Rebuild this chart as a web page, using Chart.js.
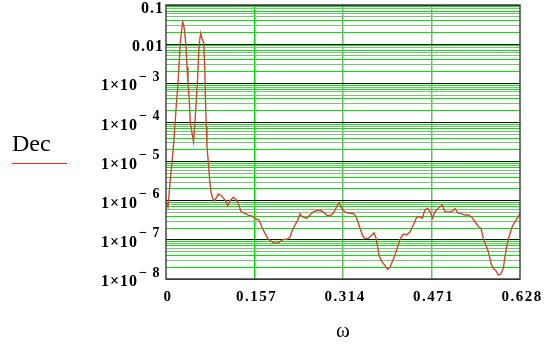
<!DOCTYPE html>
<html>
<head>
<meta charset="utf-8">
<script src="https://cdn.jsdelivr.net/npm/chart.js@4.4.1/dist/chart.umd.min.js"></script>
<style>
  html, body { margin: 0; padding: 0; background: #fff; }
  #chart { display: block; }
</style>
</head>
<body>
<canvas id="chart" width="554" height="347"></canvas>
<script>
// Dec(omega) on a log scale, Mathcad-style plot

const omega = [
    0, 0.0035, 0.0076, 0.0106, 0.0137, 0.0177, 0.0213, 0.0236, 0.0254, 0.0271,
    0.0296, 0.0314, 0.0332, 0.0355, 0.0373, 0.0390, 0.0413, 0.0431, 0.0461, 0.0488,
    0.0520, 0.0538, 0.0562, 0.0580, 0.0598, 0.0616, 0.0639, 0.0669, 0.0687, 0.0697,
    0.0715, 0.0727, 0.0757, 0.0775, 0.0798, 0.0828, 0.0864, 0.0928, 0.0988, 0.1047,
    0.1095, 0.1135, 0.1194, 0.1236, 0.1283, 0.1331, 0.1389, 0.1460, 0.1520, 0.1579,
    0.1650, 0.1698, 0.1756, 0.1815, 0.1875, 0.1934, 0.1982, 0.2022, 0.2081, 0.2141,
    0.2200, 0.2241, 0.2289, 0.2336, 0.2377, 0.2418, 0.2496, 0.2555, 0.2613, 0.2673,
    0.2744, 0.2791, 0.2851, 0.2909, 0.2968, 0.3028, 0.3069, 0.3117, 0.3175, 0.3252,
    0.3312, 0.3353, 0.3394, 0.3442, 0.3490, 0.3530, 0.3589, 0.3637, 0.3690, 0.3720,
    0.3748, 0.3779, 0.3826, 0.3885, 0.3930, 0.3974, 0.4015, 0.4062, 0.4110, 0.4151,
    0.4210, 0.4270, 0.4329, 0.4387, 0.4447, 0.4506, 0.4547, 0.4595, 0.4643, 0.4683,
    0.4731, 0.4772, 0.4831, 0.4902, 0.4950, 0.5008, 0.5068, 0.5127, 0.5181, 0.5246,
    0.5304, 0.5363, 0.5423, 0.5482, 0.5540, 0.5588, 0.5629, 0.5672, 0.5718, 0.5766,
    0.5806, 0.5854, 0.5895, 0.5938, 0.5984, 0.6014, 0.6044, 0.6085, 0.6143, 0.6191,
    0.6250, 0.6280
];

const dec = [
    9.8e-7, 6.9e-7, 3.4e-6, 9.2e-6, 3.0e-5, 2.1e-4, 1.0e-3, 3.9e-3, 1.07e-2, 1.9e-2,
    3.7e-2, 3.1e-2, 2.0e-2, 8.5e-3, 2.6e-3, 1.0e-3, 3.7e-4, 9.7e-5, 5.4e-5, 3.2e-5,
    1.4e-4, 3.7e-4, 1.47e-3, 5.9e-3, 1.28e-2, 1.9e-2, 1.4e-2, 1.07e-2, 2.65e-3, 5.6e-4,
    7.8e-5, 2.4e-5, 7.4e-6, 3.4e-6, 1.7e-6, 1.15e-6, 1.0e-6, 1.48e-6, 1.32e-6, 1.04e-6,
    7.3e-7, 1.0e-6, 1.22e-6, 1.09e-6, 8.6e-7, 5.2e-7, 4.8e-7, 4.3e-7, 4.1e-7, 3.55e-7,
    3.2e-7, 2.2e-7, 1.47e-7, 1.03e-7, 9.0e-8, 8.2e-8, 8.2e-8, 9.0e-8, 1.03e-7, 1.03e-7,
    1.16e-7, 1.78e-7, 2.4e-7, 3.2e-7, 4.6e-7, 3.9e-7, 3.55e-7, 4.3e-7, 5.2e-7, 5.6e-7,
    5.6e-7, 5.1e-7, 4.3e-7, 4.1e-7, 4.8e-7, 7.0e-7, 8.9e-7, 6.4e-7, 5.1e-7, 4.8e-7,
    4.8e-7, 4.3e-7, 3.2e-7, 1.97e-7, 1.25e-7, 1.09e-7, 1.09e-7, 1.25e-7, 1.52e-7, 1.2e-7,
    7.4e-8, 4.1e-8, 2.8e-8, 2.2e-8, 1.77e-8, 1.99e-8, 2.8e-8, 4.1e-8, 6.7e-8, 1.03e-7,
    1.41e-7, 1.33e-7, 1.61e-7, 2.4e-7, 3.8e-7, 3.9e-7, 3.55e-7, 6.0e-7, 6.4e-7, 5.2e-7,
    3.55e-7, 5.2e-7, 6.4e-7, 7.8e-7, 5.2e-7, 5.2e-7, 5.2e-7, 6.3e-7, 4.9e-7, 4.6e-7,
    4.3e-7, 4.3e-7, 3.8e-7, 2.9e-7, 2.2e-7, 1.97e-7, 1.09e-7, 7.4e-8, 5.0e-8, 2.5e-8,
    1.87e-8, 1.63e-8, 1.26e-8, 1.34e-8, 1.87e-8, 3.7e-8, 6.7e-8, 1.2e-7, 2.2e-7, 2.9e-7,
    3.9e-7, 4.8e-7
];

const xTicks = [0, 0.157, 0.314, 0.471, 0.628];
const xTickLabels = ['0', '0.157', '0.314', '0.471', '0.628'];
const yDecades = [0.1, 0.01, 1e-3, 1e-4, 1e-5, 1e-6, 1e-7, 1e-8];
const yTickBase = ['0.1', '0.01', '1×10', '1×10', '1×10', '1×10', '1×10', '1×10'];
const yTickExp = ['', '', '− 3', '− 4', '− 5', '− 6', '− 7', '− 8'];
const mantissas = [1, 2, 3, 4, 5, 6, 7, 8, 9];

const SERIF = "'Liberation Serif', 'Times New Roman', serif";

// minor grid colour per mantissa (bright / greyish green as in the original)
const minorColors = {
    2: '#00e600', 3: '#7cc07c', 4: '#00e600', 5: '#7cc07c',
    6: '#7cc07c', 7: '#00e600', 8: '#7cc07c', 9: '#00e600'
};

function yGridColor(value) {
    const exp = Math.floor(Math.log10(value) + 1e-9);
    const m = Math.round(value / Math.pow(10, exp));
    if (m === 1) return '#111111';
    return minorColors[m] || '#00e600';
}

const labelPlugin = {
    id: 'mathcadLabels',
    afterDraw(chart) {
        const ctx = chart.ctx;
        const area = chart.chartArea;
        const xs = chart.scales.x;
        const ys = chart.scales.y;

        ctx.save();

        // plot frame
        ctx.strokeStyle = '#444444';
        ctx.lineWidth = 1.5;
        ctx.strokeRect(area.left, area.top, area.right - area.left, area.bottom - area.top);

        ctx.fillStyle = '#000';
        ctx.letterSpacing = '1px';

        // y tick labels
        yDecades.forEach((v, i) => {
            const y = ys.getPixelForValue(v) + 3;
            ctx.textBaseline = 'middle';
            if (yTickExp[i] === '') {
                ctx.font = 'bold 16px ' + SERIF;
                ctx.textAlign = 'right';
                ctx.fillText(yTickBase[i], 164, Math.max(y, 9));
            } else {
                ctx.font = 'bold 16px ' + SERIF;
                ctx.textAlign = 'right';
                ctx.fillText(yTickBase[i], 138, y);
                ctx.font = 'bold 14px ' + SERIF;
                ctx.textAlign = 'left';
                ctx.fillText(yTickExp[i], 139, y - 9);
            }
        });

        // x tick labels
        ctx.letterSpacing = '1.5px';
        ctx.font = 'bold 15px ' + SERIF;
        ctx.textAlign = 'center';
        ctx.textBaseline = 'middle';
        xTicks.forEach((v, i) => {
            ctx.fillText(xTickLabels[i], xs.getPixelForValue(v) + 2, 297);
        });

        ctx.letterSpacing = '0px';

        // axis title
        ctx.font = '21px ' + SERIF;
        ctx.textAlign = 'center';
        ctx.textBaseline = 'middle';
        ctx.fillText('ω', (area.left + area.right) / 2, 331);

        // trace legend
        ctx.font = '24px ' + SERIF;
        ctx.textAlign = 'left';
        ctx.textBaseline = 'alphabetic';
        ctx.fillText('Dec', 12, 151);
        ctx.strokeStyle = '#e03020';
        ctx.lineWidth = 1;
        ctx.beginPath();
        ctx.moveTo(12, 163.5);
        ctx.lineTo(67, 163.5);
        ctx.stroke();

        ctx.restore();
    }
};

const chart = new Chart(document.getElementById('chart').getContext('2d'), {
    type: 'line',
    data: {
        datasets: [{
            label: 'Dec',
            data: omega.map((w, i) => ({ x: w, y: dec[i] })),
            borderColor: '#d0482e',
            borderWidth: 1.4,
            pointRadius: 0,
            tension: 0,
            fill: false
        }]
    },
    options: {
        responsive: false,
        animation: false,
        events: [],
        layout: {
            padding: { left: 0, right: 34, top: 5, bottom: 0 }
        },
        plugins: {
            legend: { display: false },
            title: { display: false },
            tooltip: { enabled: false }
        },
        scales: {
            x: {
                type: 'linear',
                min: 0,
                max: 0.628,
                afterBuildTicks: (scale) => {
                    scale.ticks = xTicks.map(v => ({ value: v }));
                },
                afterFit: (scale) => { scale.height = 68; },
                ticks: { display: false },
                border: { display: false },
                grid: {
                    drawTicks: false,
                    lineWidth: 1.5,
                    color: (c) => {
                        const v = c.tick ? c.tick.value : 0;
                        if (v === 0 || v === 0.628) return 'rgba(0,0,0,0)';
                        return v === 0.157 ? '#00dd00' : '#6cba6c';
                    }
                }
            },
            y: {
                type: 'logarithmic',
                min: 1e-8,
                max: 0.1,
                afterBuildTicks: (scale) => {
                    const ticks = [];
                    yDecades.slice(1).forEach(d => {
                        mantissas.forEach(m => ticks.push({ value: d * m }));
                    });
                    ticks.push({ value: 0.1 });
                    scale.ticks = ticks;
                },
                afterFit: (scale) => { scale.width = 166; },
                ticks: { display: false },
                border: { display: false },
                grid: {
                    drawTicks: false,
                    lineWidth: 1,
                    color: (c) => c.tick ? yGridColor(c.tick.value) : '#00e600'
                }
            }
        }
    },
    plugins: [labelPlugin]
});
</script>
</body>
</html>
